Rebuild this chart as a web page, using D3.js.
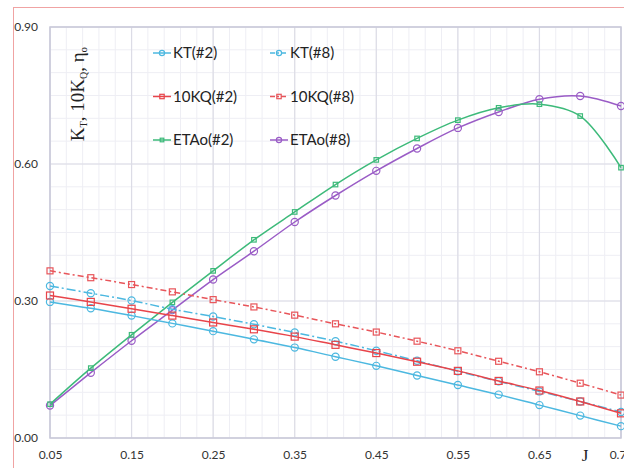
<!DOCTYPE html>
<html>
<head>
<meta charset="utf-8">
<script src="https://cdn.jsdelivr.net/npm/d3@7"></script>
<style>
  html, body { margin: 0; padding: 0; background: #fff; }
  svg { display: block; }
</style>
</head>
<body>
<svg id="chart" width="624" height="468"></svg>
<script>
// Advance ratio J
const advance = [0.05, 0.10, 0.15, 0.20, 0.25, 0.30, 0.35, 0.40, 0.45, 0.50, 0.55, 0.60, 0.65, 0.70, 0.75];

// Propeller #2 and #8 open-water characteristics
const kt2   = [0.298, 0.284, 0.268, 0.251, 0.234, 0.216, 0.198, 0.178, 0.158, 0.137, 0.116, 0.095, 0.072, 0.049, 0.026];
const kt8   = [0.333, 0.317, 0.301, 0.282, 0.266, 0.249, 0.231, 0.212, 0.191, 0.169, 0.146, 0.124, 0.102, 0.080, 0.057];
const kq2   = [0.312, 0.298, 0.283, 0.268, 0.253, 0.238, 0.222, 0.204, 0.186, 0.167, 0.147, 0.125, 0.104, 0.080, 0.054];
const kq8   = [0.366, 0.351, 0.336, 0.320, 0.303, 0.287, 0.269, 0.250, 0.232, 0.212, 0.191, 0.168, 0.145, 0.120, 0.094];
const eta2  = [0.074, 0.153, 0.226, 0.297, 0.366, 0.434, 0.495, 0.555, 0.609, 0.656, 0.696, 0.723, 0.731, 0.705, 0.592];
const eta8  = [0.071, 0.143, 0.213, 0.280, 0.347, 0.409, 0.473, 0.531, 0.585, 0.634, 0.679, 0.714, 0.742, 0.749, 0.727];

const xTicks = [0.05, 0.15, 0.25, 0.35, 0.45, 0.55, 0.65, 0.75];
const yTicks = [0.00, 0.30, 0.60, 0.90];

const seriesList = [
  { name: "KT(#2)",   values: kt2,  color: "#4cb8e0", dash: null,        marker: "circle", size: 3.6 },
  { name: "KT(#8)",   values: kt8,  color: "#4cb8e0", dash: "9,3,2,3",   marker: "circle", size: 3.6 },
  { name: "10KQ(#2)", values: kq2,  color: "#e8444a", dash: null,        marker: "square", size: 7 },
  { name: "10KQ(#8)", values: kq8,  color: "#e8555a", dash: "6,3,2,3",   marker: "square", size: 6 },
  { name: "ETAo(#2)", values: eta2, color: "#3dba7a", dash: null,        marker: "square", size: 4.5 },
  { name: "ETAo(#8)", values: eta8, color: "#9a5cc6", dash: null,        marker: "circle", size: 3.6 }
];

const svg = d3.select("#chart");
const plot = { left: 50, top: 27, right: 621, bottom: 438 };

const x = d3.scaleLinear().domain([0.05, 0.75]).range([plot.left, plot.right]);
const y = d3.scaleLinear().domain([0, 0.9]).range([plot.bottom, plot.top]);

// Chart frame
svg.append("rect")
  .attr("x", 13.5).attr("y", 7.5).attr("width", 640).attr("height", 500)
  .attr("fill", "none").attr("stroke", "#f0a3a3").attr("stroke-width", 1);

// Minor grid
const minorX = d3.range(0.05, 0.7501, 0.02);
const minorY = d3.range(0, 0.9001, 0.05);
const grid = svg.append("g");
grid.selectAll(".mx").data(minorX).join("line")
  .attr("x1", d => x(d)).attr("x2", d => x(d))
  .attr("y1", plot.top).attr("y2", plot.bottom)
  .attr("stroke", "#eeeef4").attr("stroke-width", 1);
grid.selectAll(".my").data(minorY).join("line")
  .attr("y1", d => y(d)).attr("y2", d => y(d))
  .attr("x1", plot.left).attr("x2", plot.right)
  .attr("stroke", "#eeeef4").attr("stroke-width", 1);

// Major grid
grid.selectAll(".Mx").data(xTicks).join("line")
  .attr("x1", d => x(d)).attr("x2", d => x(d))
  .attr("y1", plot.top).attr("y2", plot.bottom)
  .attr("stroke", "#dcdce6").attr("stroke-width", 1.2);
grid.selectAll(".My").data(yTicks).join("line")
  .attr("y1", d => y(d)).attr("y2", d => y(d))
  .attr("x1", plot.left).attr("x2", plot.right)
  .attr("stroke", "#dcdce6").attr("stroke-width", 1.2);

// Plot border
svg.append("rect")
  .attr("x", plot.left).attr("y", plot.top)
  .attr("width", plot.right - plot.left).attr("height", plot.bottom - plot.top)
  .attr("fill", "none").attr("stroke", "#c9c9d9").attr("stroke-width", 1.5);

// Axes
const xAxis = svg.append("g")
  .attr("transform", `translate(0,${plot.bottom + 9})`)
  .call(d3.axisBottom(x).tickValues(xTicks).tickFormat(d3.format(".2f")).tickSize(0));
xAxis.select(".domain").remove();
xAxis.selectAll("text").attr("font-family", "Lato, 'Open Sans', sans-serif").attr("font-size", 12).attr("fill", "#333");

const yAxis = svg.append("g")
  .attr("transform", `translate(${plot.left - 9},0)`)
  .call(d3.axisLeft(y).tickValues(yTicks).tickFormat(d3.format(".2f")).tickSize(0));
yAxis.select(".domain").remove();
yAxis.selectAll("text").attr("font-family", "Lato, 'Open Sans', sans-serif").attr("font-size", 12).attr("fill", "#333");

// Series
const line = d3.line()
  .x((d, i) => x(advance[i]))
  .y(d => y(d))
  .curve(d3.curveCatmullRom.alpha(0.5));

function drawMarker(g, m, cx, cy, s) {
  if (m.marker === "circle") {
    g.append("circle").attr("cx", cx).attr("cy", cy).attr("r", s)
      .attr("fill", "none").attr("stroke", m.color).attr("stroke-width", 1.2);
  } else {
    g.append("rect").attr("x", cx - s / 2).attr("y", cy - s / 2)
      .attr("width", s).attr("height", s)
      .attr("fill", "none").attr("stroke", m.color).attr("stroke-width", 1.2);
  }
}

const drawOrder = [5, 4, 0, 1, 2, 3];
drawOrder.forEach(k => {
  const s = seriesList[k];
  const g = svg.append("g");
  g.append("path")
    .datum(s.values)
    .attr("d", line)
    .attr("fill", "none")
    .attr("stroke", s.color)
    .attr("stroke-width", 1.5)
    .attr("stroke-dasharray", s.dash);
  s.values.forEach((v, i) => drawMarker(g, s, x(advance[i]), y(v), s.size));
});

// Legend
const legend = svg.append("g");
seriesList.forEach((s, i) => {
  const col = i % 2, row = Math.floor(i / 2);
  const lx = 153 + col * 117;
  const ly = 53 + row * 43.5;
  const g = legend.append("g");
  g.append("line")
    .attr("x1", lx).attr("x2", lx + 18).attr("y1", ly).attr("y2", ly)
    .attr("stroke", s.color).attr("stroke-width", 1.5)
    .attr("stroke-dasharray", s.dash ? "5,2,2,2" : null);
  const ms = s.marker === "circle" ? 2.6 : Math.min(s.size, 5.5) * 0.8;
  drawMarker(g, s, lx + 9, ly, ms);
  g.append("text")
    .attr("x", lx + 20).attr("y", ly)
    .attr("dy", "0.36em")
    .attr("font-family", "Lato, 'Open Sans', sans-serif")
    .attr("font-size", 15)
    .attr("fill", "#222")
    .text(s.name);
});

// Axis titles
const yTitle = svg.append("text")
  .attr("transform", "translate(84,94) rotate(-90)")
  .attr("text-anchor", "middle")
  .attr("font-family", "'Liberation Serif', 'DejaVu Serif', serif")
  .attr("font-size", 19)
  .attr("fill", "#222");
yTitle.append("tspan").text("K");
yTitle.append("tspan").attr("font-size", 10).attr("dy", 3).text("T");
yTitle.append("tspan").attr("dy", -3).text(", 10K");
yTitle.append("tspan").attr("font-size", 10).attr("dy", 3).text("Q");
yTitle.append("tspan").attr("dy", -3).text(", η");
yTitle.append("tspan").attr("font-size", 11).attr("dy", 3).text("o");

svg.append("text")
  .attr("x", 585).attr("y", 461)
  .attr("text-anchor", "middle")
  .attr("font-family", "'Liberation Serif', 'DejaVu Serif', serif")
  .attr("font-size", 17)
  .attr("fill", "#222")
  .text("J");
</script>
</body>
</html>
